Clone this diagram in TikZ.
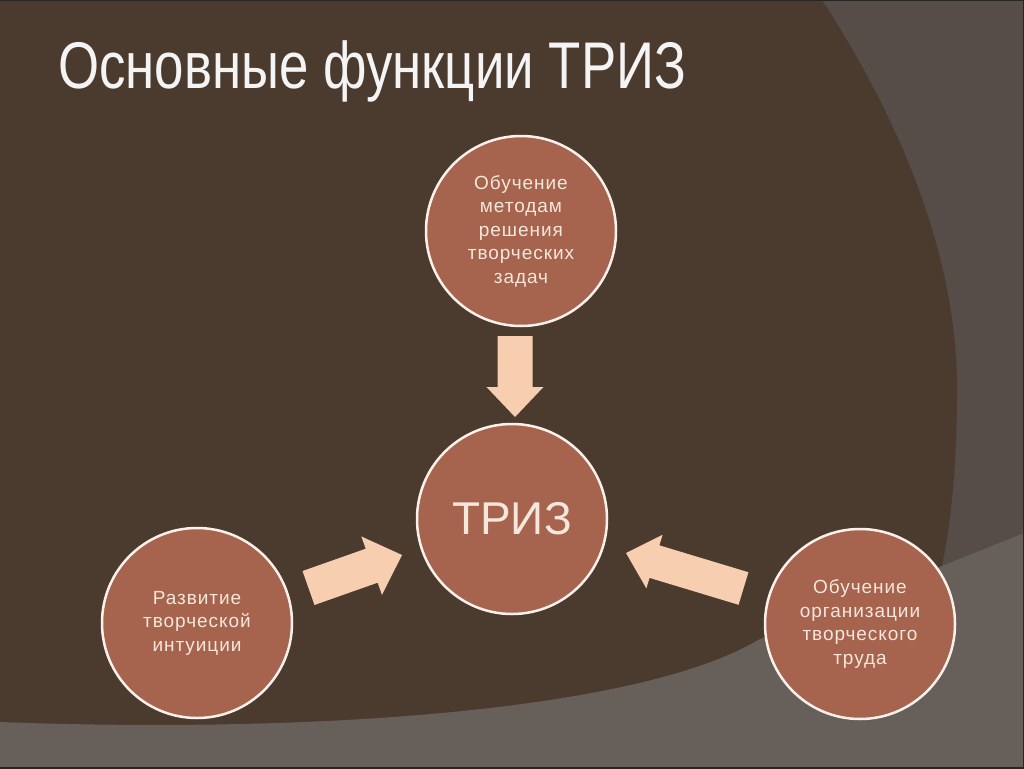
\documentclass[tikz,border=0pt]{standalone}
\usepackage{fontspec}
\setmainfont{Liberation Sans}
\newfontfamily\spacedfont[LetterSpace=5]{Liberation Sans}
\usetikzlibrary{calc}
\definecolor{bgbrown}{HTML}{4B3A2E}
\definecolor{bggrey}{HTML}{564D49}
\definecolor{bglight}{HTML}{675F5A}
\definecolor{circfill}{HTML}{A6634D}
\definecolor{circline}{HTML}{FBF1EA}
\definecolor{arrowfill}{HTML}{F7CFB0}
\definecolor{circtext}{HTML}{F5E7DC}
\definecolor{titletext}{HTML}{F4F4F4}
\tikzset{
  circ/.style={circle, fill=circfill, draw=circline, line width=2.5pt,
    minimum size=190pt, inner sep=0pt, text=circtext, align=center,
    font=\spacedfont\fontsize{19}{23.5}\selectfont},
  blockarr/.style={fill=arrowfill, draw=none},
}
% #1 name, #2 tail, #3 tip, #4 shaft half width, #5 head half width, #6 distance tail->head base
\newcommand\blockarrow[6]{%
  \coordinate (#1-t) at #2;
  \coordinate (#1-p) at #3;
  \coordinate (#1-h) at ($(#1-t)!#6!(#1-p)$);
  \path[blockarr] ($(#1-t)!#4!90:(#1-p)$) -- ($(#1-h)!#4!90:(#1-p)$)
    -- ($(#1-h)!#5!90:(#1-p)$) -- (#1-p) -- ($(#1-h)!#5!-90:(#1-p)$)
    -- ($(#1-h)!#4!-90:(#1-p)$) -- ($(#1-t)!#4!-90:(#1-p)$) -- cycle;
}
\begin{document}
\begin{tikzpicture}[x=1pt,y=-1pt]
\useasboundingbox (0,0) rectangle (1024,768);
% background
\fill[bggrey] (0,0) rectangle (1024,768);
\fill[bgbrown] (0,0) -- (822,0) .. controls (900,120) and (960,260) .. (957,400)
  .. controls (956,480) and (950,530) .. (940,575) -- (940,768) -- (0,768) -- cycle;
\fill[bglight] (0,722) .. controls (320,734) and (640,710) .. (758,640)
  -- (1024,533) -- (1024,768) -- (0,768) -- cycle;
\draw[black!85, line width=3pt] (0,0) -- (1024,0) -- (1024,768) -- (0,768);
% title
\node[anchor=base west, inner sep=0pt, text=titletext,
  font=\fontsize{66}{70}\selectfont] (title) at (58,88)
  {\scalebox{0.8}[1]{Основные функции ТРИЗ}};
% arrows
\blockarrow{atop}{(515,336)}{(515,417)}{17.5pt}{28.5pt}{51pt}
\blockarrow{aleft}{(308.5,588)}{(402,555)}{18pt}{31pt}{67pt}
\blockarrow{aright}{(743.5,588.5)}{(626,553)}{17pt}{28pt}{93pt}
% circles
\node[circ] (top) at (521,231) {\raisebox{-2pt}{\parbox{150pt}{\centering Обучение\\методам\\решения\\творческих\\задач}}};
\node[circ, font=\fontsize{46}{50}\selectfont] (triz) at (512,519) {ТРИЗ};
\node[circ] (left) at (197,623) {\raisebox{-2pt}{\parbox{150pt}{\centering Развитие\\творческой\\интуиции}}};
\node[circ] (right) at (860,624) {\raisebox{-2pt}{\parbox{150pt}{\centering Обучение\\организации\\творческого\\труда}}};
\end{tikzpicture}
\end{document}
